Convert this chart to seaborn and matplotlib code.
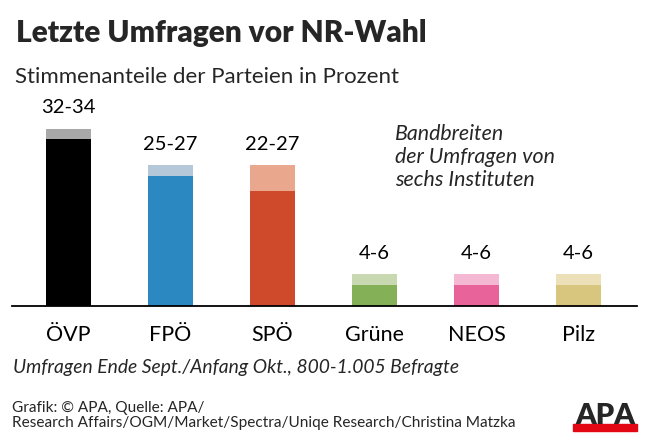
import matplotlib
matplotlib.use("Agg")
import matplotlib.pyplot as plt
from matplotlib.patches import Rectangle
import seaborn as sns
import pandas as pd

# ================== Daten ==================
parteien = ["ÖVP", "FPÖ", "SPÖ", "Grüne", "NEOS", "Pilz"]
umfrage_min = [32, 25, 22, 4, 4, 4]
umfrage_max = [34, 27, 27, 6, 6, 6]
farben_dunkel = ["#000000", "#2b88c0", "#cf4a2b", "#84b158", "#e8639a", "#d8c67e"]
farben_hell = ["#a8a8a8", "#b4c8da", "#e9a88e", "#c8d8b0", "#f4b8d2", "#ebe0b8"]

df = pd.DataFrame({"partei": parteien, "min": umfrage_min, "max": umfrage_max})
df["label"] = [f"{a}-{b}" for a, b in zip(umfrage_min, umfrage_max)]

sns.set_theme(style="white")
plt.rcParams["font.family"] = ["Lato", "DejaVu Sans"]

fig = plt.figure(figsize=(6.5, 4.43), dpi=100)
ax = fig.add_axes([12 / 650, (443 - 305.5) / 443, 625 / 650, 187.2 / 443])

# Bandbreite (hell) und Untergrenze (dunkel)
sns.barplot(data=df, x="partei", y="max", hue="partei", palette=farben_hell,
            width=0.44, legend=False, ax=ax, saturation=1, linewidth=0)
sns.barplot(data=df, x="partei", y="min", hue="partei", palette=farben_dunkel,
            width=0.44, legend=False, ax=ax, saturation=1, linewidth=0)

ax.set_xlim(-0.554, 5.573)
ax.set_ylim(0, 36)
ax.set_xlabel("")
ax.set_ylabel("")
ax.set_yticks([])
for s in ["top", "right", "left"]:
    ax.spines[s].set_visible(False)
ax.spines["bottom"].set_color("black")
ax.spines["bottom"].set_linewidth(1.3)
ax.tick_params(axis="x", length=0, pad=14, labelsize=15.5, labelcolor="black")

# Werte über den Balken
for i, row in df.iterrows():
    ax.annotate(row["label"], xy=(i, row["max"]), xytext=(0, 15),
                textcoords="offset points", ha="center", va="center",
                fontsize=14.5, color="black", annotation_clip=False)

# Titel und Texte
fig.text(16 / 650, 1 - 42 / 443, "Letzte Umfragen vor NR-Wahl", fontsize=21.5,
         fontweight="heavy", ha="left", va="baseline")
fig.text(15 / 650, 1 - 83 / 443, "Stimmenanteile der Parteien in Prozent",
         fontsize=16, ha="left", va="baseline")
fig.text(395 / 650, 1 - 157 / 443, "Bandbreiten\nder Umfragen von\nsechs Instituten",
         fontsize=15.4, style="italic", ha="left", va="center", linespacing=1.17)
fig.text(13 / 650, 1 - 368 / 443,
         "Umfragen Ende Sept./Anfang Okt., 800-1.005 Befragte",
         fontsize=13.9, style="italic", ha="left", va="center")
fig.text(12 / 650, 1 - 415.5 / 443,
         "Grafik: © APA, Quelle: APA/\nResearch Affairs/OGM/Market/Spectra/Uniqe Research/Christina Matzka",
         fontsize=11.1, ha="left", va="center", linespacing=1.08)

# APA-Logo
fig.patches.append(Rectangle((573 / 650, 1 - 431 / 443), 64 / 650, 7 / 443,
                             transform=fig.transFigure, color="#e30613", zorder=1))
fig.text(605 / 650, 1 - 424.5 / 443, "APA", fontsize=21, fontweight="heavy",
         ha="center", va="baseline", zorder=2)

fig.savefig("out.png", dpi=100)
